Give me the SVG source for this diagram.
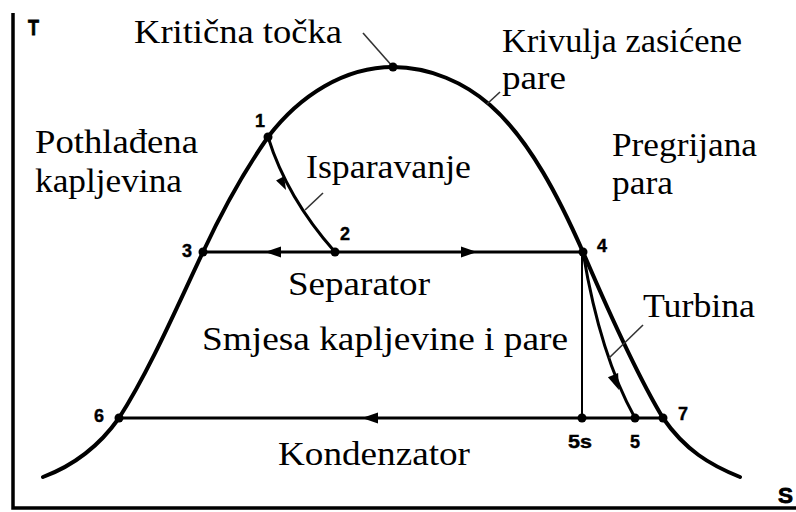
<svg xmlns="http://www.w3.org/2000/svg" xmlns:xlink="http://www.w3.org/1999/xlink" width="796" height="512" viewBox="0 0 796 512">
<style>
.lbl{font-family:"Liberation Serif","Times New Roman",serif;font-size:34px;fill:#000}
.num{font-family:"Liberation Sans",Arial,sans-serif;font-weight:bold;font-size:18px;fill:#000;stroke:#000;stroke-width:0.4}
.ax{font-family:"Liberation Sans",Arial,sans-serif;font-weight:bold;font-size:22px;fill:#000;stroke:#000;stroke-width:0.8}
.curve{fill:none;stroke:#000;stroke-width:4;stroke-linecap:round}
.proc{fill:none;stroke:#000;stroke-width:3}
.thin{fill:none;stroke:#000;stroke-width:2}
.lead{fill:none;stroke:#333;stroke-width:1.6}
.dot{fill:#000}
</style>
<defs>
<path id="ah" d="M0,0 L-16,-5.5 L-16,5.5 Z" fill="#000"/>
<path id="ahs" d="M0,0 L-13,-4.5 L-13,4.5 Z" fill="#000"/>
</defs>
<rect width="796" height="512" fill="#fff"/>
<g id="axes">
<path d="M13,13 L13,508 L796,508" fill="none" stroke="#000" stroke-width="3.5"/>
<text class="ax" x="28" y="35" textLength="11" lengthAdjust="spacingAndGlyphs">T</text>
<text class="ax" x="778" y="503" textLength="15" lengthAdjust="spacingAndGlyphs">S</text>
</g>
<g id="saturation-curve">
<path class="curve" d="M43,477 C75,465 100,445 119,418 C150,370 180,300 203,252 C225,205 245,170 268,137 C300,95 345,67 393,67 C430,67 465,83 490,105 C530,140 560,200 583,252 C610,315 640,380 663,418 C685,450 710,465 740,477"/>
</g>
<g id="connectors">
<path class="proc" d="M268,137 Q287,198 335,252"/>
<path class="proc" d="M203,252 L583,252"/>
<path class="thin" d="M582,252 L582,418"/>
<path class="proc" d="M583,252 Q600,355 635,418"/>
<path class="proc" d="M119,418 L663,418"/>
<use xlink:href="#ahs" href="#ahs" transform="translate(286,190) rotate(63)"/>
<use xlink:href="#ah" href="#ah" transform="translate(265,252) rotate(180)"/>
<use xlink:href="#ah" href="#ah" transform="translate(477,252)"/>
<use xlink:href="#ah" href="#ah" transform="translate(362,418) rotate(180)"/>
<use xlink:href="#ah" href="#ah" transform="translate(619,390) rotate(68)"/>
<path class="lead" d="M363,33 L393,67"/>
<path class="lead" d="M500,92 L487,104"/>
<path class="lead" d="M323,193 L305,210"/>
<path class="lead" d="M643,325 L609,358"/>
</g>
<g id="p-critical"><circle class="dot" cx="393" cy="67" r="4.5"/></g>
<g id="p1"><circle class="dot" cx="268" cy="137" r="4.5"/><text class="num" x="255" y="127">1</text></g>
<g id="p2"><circle class="dot" cx="335" cy="252" r="4.5"/><text class="num" x="340" y="240">2</text></g>
<g id="p3"><circle class="dot" cx="203" cy="252" r="4.5"/><text class="num" x="182" y="257">3</text></g>
<g id="p4"><circle class="dot" cx="583" cy="252" r="4.5"/><text class="num" x="597" y="252">4</text></g>
<g id="p5s"><circle class="dot" cx="582" cy="418" r="4.5"/><text class="num" x="568" y="448" textLength="24" lengthAdjust="spacingAndGlyphs">5s</text></g>
<g id="p5"><circle class="dot" cx="635" cy="418" r="4.5"/><text class="num" x="630" y="448">5</text></g>
<g id="p6"><circle class="dot" cx="119" cy="418" r="4.5"/><text class="num" x="94" y="422">6</text></g>
<g id="p7"><circle class="dot" cx="663" cy="418" r="4.5"/><text class="num" x="678" y="420">7</text></g>
<g id="labels">
<text class="lbl" x="134" y="43" font-size="32" textLength="208" lengthAdjust="spacingAndGlyphs">Kritična točka</text>
<text class="lbl" x="502" y="52" textLength="240" lengthAdjust="spacingAndGlyphs">Krivulja zasićene</text>
<text class="lbl" x="502" y="89" textLength="64" lengthAdjust="spacingAndGlyphs">pare</text>
<text class="lbl" x="35" y="153" textLength="163" lengthAdjust="spacingAndGlyphs">Pothlađena</text>
<text class="lbl" x="35" y="192" textLength="147" lengthAdjust="spacingAndGlyphs">kapljevina</text>
<text class="lbl" x="612" y="156" textLength="145" lengthAdjust="spacingAndGlyphs">Pregrijana</text>
<text class="lbl" x="612" y="194" textLength="61" lengthAdjust="spacingAndGlyphs">para</text>
<text class="lbl" x="306" y="178" textLength="165" lengthAdjust="spacingAndGlyphs">Isparavanje</text>
<text class="lbl" x="288" y="295" textLength="142" lengthAdjust="spacingAndGlyphs">Separator</text>
<text class="lbl" x="202" y="350" textLength="366" lengthAdjust="spacingAndGlyphs">Smjesa kapljevine i pare</text>
<text class="lbl" x="643" y="317" textLength="112" lengthAdjust="spacingAndGlyphs">Turbina</text>
<text class="lbl" x="278" y="465" textLength="192" lengthAdjust="spacingAndGlyphs">Kondenzator</text>
</g>
</svg>
